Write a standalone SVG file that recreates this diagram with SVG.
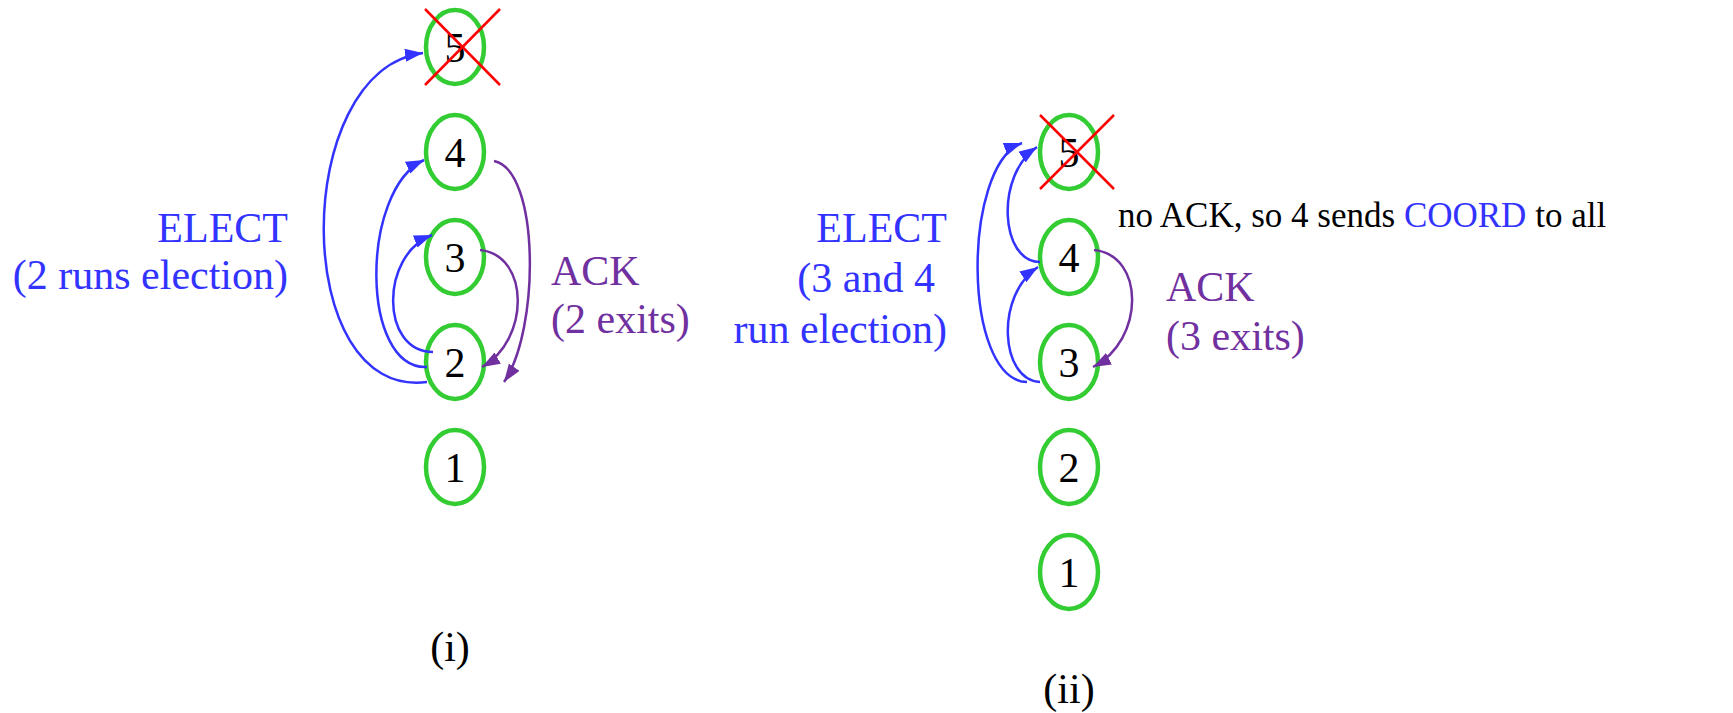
<svg xmlns="http://www.w3.org/2000/svg" width="1733" height="713" viewBox="0 0 1733 713">
<style>
.node{fill:none;stroke:#33CC33;stroke-width:4.5}
.num{font-family:"Liberation Serif","Times New Roman",serif;font-size:42px;fill:#000;text-anchor:middle}
.lbl{font-family:"Liberation Serif","Times New Roman",serif;font-size:42px}
.blue{fill:#3333FF}
.purple{fill:#7030A0}
.cross{stroke:#FF0000;stroke-width:2.5}
.eb{fill:none;stroke:#3333FF;stroke-width:2.5;marker-end:url(#ab)}
.ep{fill:none;stroke:#7030A0;stroke-width:2.5;marker-end:url(#ap)}
</style>
<defs>
<marker id="ab" markerUnits="userSpaceOnUse" markerWidth="20" markerHeight="16" refX="18" refY="6.5" orient="auto"><path d="M0,0 L18,6.5 L0,13 z" fill="#3333FF"/></marker>
<marker id="ap" markerUnits="userSpaceOnUse" markerWidth="20" markerHeight="16" refX="18" refY="6.5" orient="auto"><path d="M0,0 L18,6.5 L0,13 z" fill="#7030A0"/></marker>
</defs>
<rect width="1733" height="713" fill="#fff"/>

<!-- Diagram (i) -->
<g id="i-node5"><ellipse class="node" cx="455" cy="47" rx="29" ry="37"/><text class="num" x="455" y="62">5</text><line class="cross" x1="425" y1="9" x2="500" y2="85"/><line class="cross" x1="500" y1="9" x2="425" y2="85"/></g>
<g id="i-node4"><ellipse class="node" cx="455" cy="152" rx="29" ry="37"/><text class="num" x="455" y="167">4</text></g>
<g id="i-node3"><ellipse class="node" cx="455" cy="257" rx="29" ry="37"/><text class="num" x="455" y="272">3</text></g>
<g id="i-node2"><ellipse class="node" cx="455" cy="362" rx="29" ry="37"/><text class="num" x="455" y="377">2</text></g>
<g id="i-node1"><ellipse class="node" cx="455" cy="467" rx="29" ry="37"/><text class="num" x="455" y="482">1</text></g>

<!-- Diagram (ii) -->
<g id="ii-node5"><ellipse class="node" cx="1069" cy="152" rx="29" ry="37"/><text class="num" x="1069" y="167">5</text><line class="cross" x1="1040" y1="115" x2="1114" y2="189"/><line class="cross" x1="1114" y1="115" x2="1040" y2="189"/></g>
<g id="ii-node4"><ellipse class="node" cx="1069" cy="257" rx="29" ry="37"/><text class="num" x="1069" y="272">4</text></g>
<g id="ii-node3"><ellipse class="node" cx="1069" cy="362" rx="29" ry="37"/><text class="num" x="1069" y="377">3</text></g>
<g id="ii-node2"><ellipse class="node" cx="1069" cy="467" rx="29" ry="37"/><text class="num" x="1069" y="482">2</text></g>
<g id="ii-node1"><ellipse class="node" cx="1069" cy="572" rx="29" ry="37"/><text class="num" x="1069" y="587">1</text></g>

<g id="connectors">
<path class="eb" d="M427,382 C290,400 290,70 423,53"/>
<path class="eb" d="M427,367 C360,370 360,190 424,160"/>
<path class="eb" d="M433,352 C380,352 380,255 432,235"/>
<path class="ep" d="M480,250 C530,255 530,340 482,367"/>
<path class="ep" d="M494,161 C540,170 540,330 504,382"/>

<path class="eb" d="M1027,382 C962,380 962,165 1022,143"/>
<path class="eb" d="M1040,262 C1000,262 995,175 1037,147"/>
<path class="eb" d="M1040,382 C1000,380 995,295 1038,267"/>
<path class="ep" d="M1094,250 C1145,255 1145,340 1093,367"/>
</g>

<g id="labels">
<text class="lbl blue" x="288" y="242" text-anchor="end">ELECT</text>
<text class="lbl blue" x="288" y="289" text-anchor="end">(2 runs election)</text>
<text class="lbl purple" x="551" y="285">ACK</text>
<text class="lbl purple" x="551" y="333">(2 exits)</text>
<text class="lbl" x="450" y="661" text-anchor="middle">(i)</text>

<text class="lbl blue" x="947" y="242" text-anchor="end">ELECT</text>
<text class="lbl blue" x="935" y="292" text-anchor="end">(3 and 4</text>
<text class="lbl blue" x="947" y="343" text-anchor="end">run election)</text>
<text class="lbl purple" x="1166" y="301">ACK</text>
<text class="lbl purple" x="1166" y="350">(3 exits)</text>
<text class="lbl" x="1069" y="703" text-anchor="middle">(ii)</text>
<text x="1118" y="227" font-family="'Liberation Serif','Times New Roman',serif" font-size="35" fill="#000">no ACK, so 4 sends <tspan fill="#3333FF">COORD</tspan> to all</text>
</g>
</svg>
